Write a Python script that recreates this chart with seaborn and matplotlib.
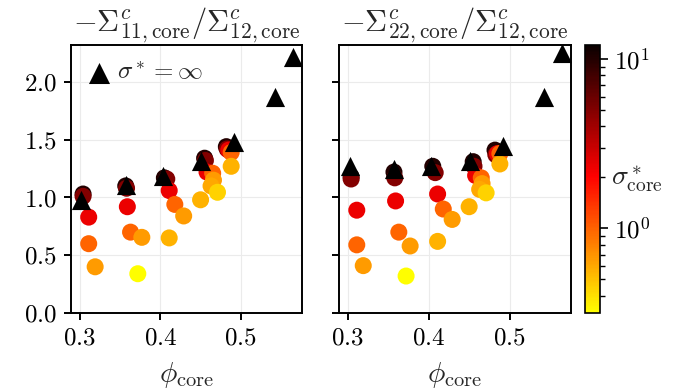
import numpy as np
import pandas as pd
import matplotlib
matplotlib.use("Agg")
import matplotlib.pyplot as plt
from matplotlib.colors import LogNorm, ListedColormap
from matplotlib.cm import ScalarMappable
import seaborn as sns

# Finite shear-stress runs: core packing fraction, core shear stress, stress ratios
phi = [0.304, 0.304, 0.311, 0.311, 0.319,
       0.357, 0.358, 0.359, 0.363, 0.377, 0.372,
       0.405, 0.408, 0.411, 0.418, 0.429, 0.411,
       0.455, 0.456, 0.458, 0.465, 0.466, 0.463, 0.471, 0.450,
       0.482, 0.483, 0.485, 0.488, 0.488]
sigma = [10.0, 5.0, 2.3, 1.0, 0.66,
         10.0, 5.0, 2.3, 1.0, 0.66, 0.32,
         10.0, 5.0, 2.3, 1.0, 0.66, 0.56,
         10.0, 5.0, 2.3, 1.0, 0.66, 0.60, 0.45, 0.56,
         10.0, 5.0, 2.3, 1.0, 0.56]
ratio11 = [1.03, 1.01, 0.83, 0.60, 0.40,
           1.10, 1.08, 0.92, 0.70, 0.655, 0.34,
           1.17, 1.16, 1.06, 0.94, 0.84, 0.65,
           1.34, 1.32, 1.22, 1.21, 1.15, 1.10, 1.045, 0.98,
           1.44, 1.42, 1.41, 1.39, 1.27]
ratio22 = [1.18, 1.16, 0.89, 0.59, 0.41,
           1.22, 1.17, 0.97, 0.70, 0.58, 0.32,
           1.27, 1.215, 1.03, 0.90, 0.81, 0.62,
           1.31, 1.27, 1.19, 1.17, 1.12, 1.07, 1.04, 0.92,
           1.41, 1.37, 1.38, 1.38, 1.29]

# Rate-independent limit (sigma* -> infinity)
phi_inf = [0.302, 0.357, 0.403, 0.451, 0.492, 0.542, 0.565]
ratio11_inf = [0.98, 1.11, 1.19, 1.32, 1.48, 1.87, 2.22]
ratio22_inf = [1.27, 1.25, 1.275, 1.32, 1.445, 1.87, 2.25]

titles = [r"$-\Sigma^c_{11,\mathrm{core}}/\Sigma^c_{12,\mathrm{core}}$",
          r"$-\Sigma^c_{22,\mathrm{core}}/\Sigma^c_{12,\mathrm{core}}$"]

df = pd.DataFrame({"phi": phi, "sigma": sigma, "r11": ratio11, "r22": ratio22})
df_inf = pd.DataFrame({"phi": phi_inf, "r11": ratio11_inf, "r22": ratio22_inf})

sns.set_theme(style="ticks")
plt.rcParams.update({
    "font.family": "serif",
    "font.serif": ["cmr10"],
    "mathtext.fontset": "cm",
    "axes.formatter.use_mathtext": True,
    "axes.unicode_minus": False,
    "font.size": 18,
    "axes.linewidth": 1.4,
    "xtick.major.width": 1.4,
    "ytick.major.width": 1.4,
    "xtick.major.size": 5,
    "ytick.major.size": 5,
    "xtick.major.pad": 5,
    "ytick.major.pad": 5,
    "xtick.labelsize": 18,
    "ytick.labelsize": 18,
    "axes.edgecolor": "black",
    "xtick.color": "black",
    "ytick.color": "black",
})

# truncated, reversed "hot": yellow -> red -> black
cmap = ListedColormap(plt.cm.hot(np.linspace(0.0, 0.746, 256))[::-1])
norm = LogNorm(vmin=0.316, vmax=12.1)

W, H = 691, 389
fig = plt.figure(figsize=(W / 100, H / 100), dpi=100)
ax1 = fig.add_axes([71 / W, (H - 313) / H, 231 / W, 268 / H])
ax2 = fig.add_axes([339 / W, (H - 313) / H, 232 / W, 268 / H], sharey=ax1)
cax = fig.add_axes([585 / W, (H - 313) / H, 15 / W, 268 / H])

for ax, col, title, show_leg in [(ax1, "r11", titles[0], True), (ax2, "r22", titles[1], False)]:
    ax.grid(True, color="#ebebeb", linewidth=0.8)
    ax.set_axisbelow(True)
    sns.scatterplot(data=df, x="phi", y=col, hue="sigma", hue_norm=norm, palette=cmap,
                    s=150, linewidth=0, legend=False, ax=ax, zorder=2)
    sns.scatterplot(data=df_inf, x="phi", y=col, color="black", marker="^", s=190,
                    linewidth=0, ax=ax, zorder=3,
                    label=r"$\sigma^* = \infty$" if show_leg else None, legend=show_leg)
    ax.set_xlim(0.289, 0.576)
    ax.set_ylim(0, 2.32)
    ax.set_xticks([0.3, 0.4, 0.5])
    ax.set_xlabel(r"$\phi_{\mathrm{core}}$", fontsize=21, labelpad=8)
    ax.set_ylabel("")
    ax.set_title(title, fontsize=22, pad=6)
    for s in ax.spines.values():
        s.set_visible(True)
        s.set_linewidth(1.4)

ax1.set_yticks([0.0, 0.5, 1.0, 1.5, 2.0])
ax1.legend(loc="upper left", frameon=False, handletextpad=0.3, fontsize=18,
           borderaxespad=0.35, borderpad=0.3, handlelength=0.9, markerscale=1.1)
plt.setp(ax2.get_yticklabels(), visible=False)

cb = fig.colorbar(ScalarMappable(norm=norm, cmap=cmap), cax=cax)
cb.outline.set_linewidth(1.2)
cax.tick_params(which="major", length=6, width=1.2, labelsize=18, pad=4)
cax.tick_params(which="minor", length=3.5, width=1.0)
cax.set_ylabel(r"$\sigma^*_{\mathrm{core}}$", rotation=0, fontsize=20, ha="left", va="center")
cax.yaxis.set_label_coords(1.75, 0.5)

fig.savefig("out.png", dpi=100)
